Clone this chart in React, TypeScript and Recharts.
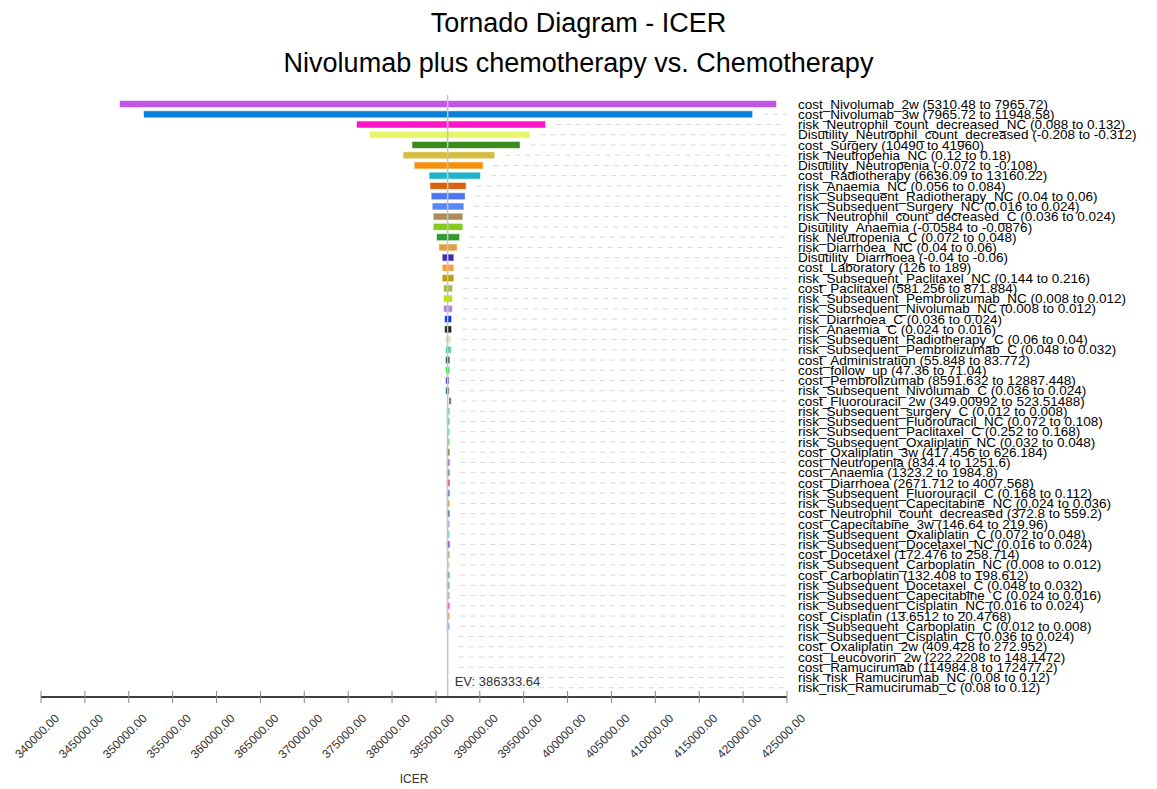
import React from "react"
import { BarChart, Bar, XAxis, YAxis, Cell, ReferenceLine, Label } from "recharts"

const title = "Tornado Diagram - ICER"
const subtitle = "Nivolumab plus chemotherapy vs. Chemotherapy"
const expectedValue = 386333.64

const paramLabels = [
  "cost_Nivolumab_2w (5310.48 to 7965.72)",
  "cost_Nivolumab_3w (7965.72 to 11948.58)",
  "risk_Neutrophil_count_decreased_NC (0.088 to 0.132)",
  "Disutility_Neutrophil_count_decreased (-0.208 to -0.312)",
  "cost_Surgery (10490 to 41960)",
  "risk_Neutropenia_NC (0.12 to 0.18)",
  "Disutility_Neutropenia (-0.072 to -0.108)",
  "cost_Radiotherapy (6636.09 to 13160.22)",
  "risk_Anaemia_NC (0.056 to 0.084)",
  "risk_Subsequent_Radiotherapy_NC (0.04 to 0.06)",
  "risk_Subsequent_Surgery_NC (0.016 to 0.024)",
  "risk_Neutrophil_count_decreased_C (0.036 to 0.024)",
  "Disutility_Anaemia (-0.0584 to -0.0876)",
  "risk_Neutropenia_C (0.072 to 0.048)",
  "risk_Diarrhoea_NC (0.04 to 0.06)",
  "Disutility_Diarrhoea (-0.04 to -0.06)",
  "cost_Laboratory (126 to 189)",
  "risk_Subsequent_Paclitaxel_NC (0.144 to 0.216)",
  "cost_Paclitaxel (581.256 to 871.884)",
  "risk_Subsequent_Pembrolizumab_NC (0.008 to 0.012)",
  "risk_Subsequent_Nivolumab_NC (0.008 to 0.012)",
  "risk_Diarrhoea_C (0.036 to 0.024)",
  "risk_Anaemia_C (0.024 to 0.016)",
  "risk_Subsequent_Radiotherapy_C (0.06 to 0.04)",
  "risk_Subsequent_Pembrolizumab_C (0.048 to 0.032)",
  "cost_Administration (55.848 to 83.772)",
  "cost_follow_up (47.36 to 71.04)",
  "cost_Pembrolizumab (8591.632 to 12887.448)",
  "risk_Subsequent_Nivolumab_C (0.036 to 0.024)",
  "cost_Fluorouracil_2w (349.00992 to 523.51488)",
  "risk_Subsequent_surgery_C (0.012 to 0.008)",
  "risk_Subsequent_Fluorouracil_NC (0.072 to 0.108)",
  "risk_Subsequent_Paclitaxel_C (0.252 to 0.168)",
  "risk_Subsequent_Oxaliplatin_NC (0.032 to 0.048)",
  "cost_Oxaliplatin_3w (417.456 to 626.184)",
  "cost_Neutropenia (834.4 to 1251.6)",
  "cost_Anaemia (1323.2 to 1984.8)",
  "cost_Diarrhoea (2671.712 to 4007.568)",
  "risk_Subsequent_Fluorouracil_C (0.168 to 0.112)",
  "risk_Subsequent_Capecitabine_NC (0.024 to 0.036)",
  "cost_Neutrophil_count_decreased (372.8 to 559.2)",
  "cost_Capecitabine_3w (146.64 to 219.96)",
  "risk_Subsequent_Oxaliplatin_C (0.072 to 0.048)",
  "risk_Subsequent_Docetaxel_NC (0.016 to 0.024)",
  "cost_Docetaxel (172.476 to 258.714)",
  "risk_Subsequent_Carboplatin_NC (0.008 to 0.012)",
  "cost_Carboplatin (132.408 to 198.612)",
  "risk_Subsequent_Docetaxel_C (0.048 to 0.032)",
  "risk_Subsequent_Capecitabine_C (0.024 to 0.016)",
  "risk_Subsequent_Cisplatin_NC (0.016 to 0.024)",
  "cost_Cisplatin (13.6512 to 20.4768)",
  "risk_Subsequent_Carboplatin_C (0.012 to 0.008)",
  "risk_Subsequent_Cisplatin_C (0.036 to 0.024)",
  "cost_Oxaliplatin_2w (409.428 to 272.952)",
  "cost_Leucovorin_2w (222.2208 to 148.1472)",
  "cost_Ramucirumab (114984.8 to 172477.2)",
  "risk_risk_Ramucirumab_NC (0.08 to 0.12)",
  "risk_risk_Ramucirumab_C (0.08 to 0.12)",
]

// ICER at the low end of each bar
const icerLow = [
  349000, 351740, 376010, 377490, 382330, 381320, 382580, 384270, 384370, 384520,
  384640, 384750, 384750, 385120, 385390, 385770, 385770, 385770, 385920, 385920,
  385920, 386040, 386040, 386070, 386150, 386150, 386150, 386150, 386150, 386530,
  386260, 386260, 386260, 386260, 386260, 386260, 386260, 386260, 386260, 386260,
  386260, 386260, 386260, 386260, 386260, 386260, 386260, 386260, 386260, 386260,
  386260, 386260, 386333.64, 386333.64, 386333.64, 386333.64, 386333.64, 386333.64,
]

// ICER at the high end of each bar
const icerHigh = [
  423750, 421020, 397430, 395660, 394540, 391640, 390320, 390020, 388380, 388280,
  388120, 388010, 388010, 387630, 387370, 386980, 386980, 386980, 386830, 386830,
  386830, 386720, 386720, 386690, 386690, 386530, 386530, 386460, 386460, 386690,
  386530, 386530, 386530, 386530, 386530, 386530, 386530, 386530, 386530, 386530,
  386530, 386530, 386530, 386530, 386530, 386530, 386530, 386530, 386530, 386530,
  386530, 386530, 386333.64, 386333.64, 386333.64, 386333.64, 386333.64, 386333.64,
]

const barColors = [
  "#c155e6", "#0b80d9", "#ff14c8", "#e8f56a", "#3c8a1c", "#d6bd40", "#f4900c", "#21b3c9",
  "#d9620f", "#4f75ee", "#5b86f5", "#ad8d5a", "#86c91f", "#2f9a2c", "#e0a042", "#3f2fae",
  "#f7a040", "#b79f06", "#9ebe40", "#bfe00a", "#b08fd6", "#1030e6", "#1f1f1f", "#d6efc6",
  "#4fd1a0", "#1f4f3f", "#3ff03f", "#603eaf", "#2f6886", "#5f705f", "#5fd3d3", "#5fd0b0",
  "#6fe0c3", "#8fe06f", "#6f7f3f", "#c04fd0", "#4f8f9f", "#e03f5f", "#4f6fbf", "#f0a04f",
  "#3f6f9f", "#aea0f0", "#6fe0e0", "#5f3fe0", "#7fcf7f", "#f0d0b0", "#6fafaf", "#6fbf6f",
  "#c0b0a0", "#ff3fbf", "#f0a05f", "#a0b0f8", "#aaaaaa", "#aaaaaa", "#aaaaaa", "#aaaaaa",
  "#aaaaaa", "#aaaaaa",
]

const xTicks = [
  340000, 345000, 350000, 355000, 360000, 365000, 370000, 375000, 380000,
  385000, 390000, 395000, 400000, 405000, 410000, 415000, 420000, 425000,
]

const data = paramLabels.map((name, i) => ({
  name,
  range: [icerLow[i], icerHigh[i]],
}))

const font = "'Liberation Sans', Arial, sans-serif"

function TornadoBar(props: any) {
  const { x, y, width, height, fill, background } = props
  const right = background ? background.x + background.width : 779
  const start = x + Math.max(width, 0) + 11
  return (
    <g>
      {start < right && (
        <line
          x1={start}
          x2={right}
          y1={y + height / 2}
          y2={y + height / 2}
          stroke="#d8d8d8"
          strokeDasharray="5 5"
        />
      )}
      {width > 0 && (
        <rect x={x} y={y} width={width} height={height} fill={fill} stroke={fill} strokeOpacity={0.45} strokeWidth={1} />
      )}
    </g>
  )
}

function ParamTick(props: any) {
  const { x, y, payload } = props
  return (
    <text x={x + 3} y={y + 4.5} fontSize={13.5} fontFamily={font} fill="#000">
      {payload.value}
    </text>
  )
}

function IcerTick(props: any) {
  const { x, y, payload } = props
  return (
    <g>
      <line x1={x} x2={x} y1={y - 6} y2={y + 6} stroke="#888" />
      <text
        x={x + 19}
        y={y + 22}
        textAnchor="end"
        fontSize={12}
        fontFamily={font}
        fill="#333"
        transform={`rotate(-45 ${x + 19} ${y + 22})`}
      >
        {payload.value.toFixed(2)}
      </text>
    </g>
  )
}

function EvLabel(props: any) {
  const { viewBox } = props
  if (!viewBox) return null
  return (
    <text x={viewBox.x + 7} y={viewBox.y + viewBox.height - 11} fontSize={13} fontFamily={font} fill="#333">
      EV: {expectedValue.toFixed(2)}
    </text>
  )
}

export default function App() {
  return (
    <div style={{ position: "relative", width: 1141, height: 781, background: "#fff" }}>
      <svg width={1141} height={80} style={{ position: "absolute", left: 0, top: 0 }}>
        <text x={570.5} y={24} textAnchor="middle" fontSize={27} fontFamily={font} fill="#000">
          {title}
        </text>
        <text x={570.5} y={64} textAnchor="middle" fontSize={27} fontFamily={font} fill="#000">
          {subtitle}
        </text>
      </svg>
      <div style={{ position: "absolute", left: 0, top: 0 }}>
        <BarChart
          width={1141}
          height={781}
          data={data}
          layout="vertical"
          margin={{ top: 87, right: 0, bottom: 0, left: 33 }}
        >
          <XAxis
            type="number"
            domain={[340000, 425000]}
            ticks={xTicks}
            allowDataOverflow
            height={92}
            tickSize={0}
            tickMargin={0}
            tickLine={false}
            axisLine={{ stroke: "#000", strokeWidth: 1.5 }}
            tick={<IcerTick />}
            interval={0}
          >
            <Label value="ICER" position="insideBottom" offset={6} fontSize={12} fontFamily={font} fill="#333" />
          </XAxis>
          <YAxis
            type="category"
            dataKey="name"
            orientation="right"
            width={362}
            padding={{ top: 4, bottom: 4 }}
            axisLine={false}
            tickLine={false}
            interval={0}
            tick={<ParamTick />}
          />
          <Bar dataKey="range" barSize={6} shape={<TornadoBar />} isAnimationActive={false}>
            {data.map((d, i) => (
              <Cell key={d.name} fill={barColors[i]} />
            ))}
          </Bar>
          <ReferenceLine x={expectedValue} stroke="#c4c4c4" strokeWidth={1.5} label={<EvLabel />} />
        </BarChart>
      </div>
    </div>
  )
}
